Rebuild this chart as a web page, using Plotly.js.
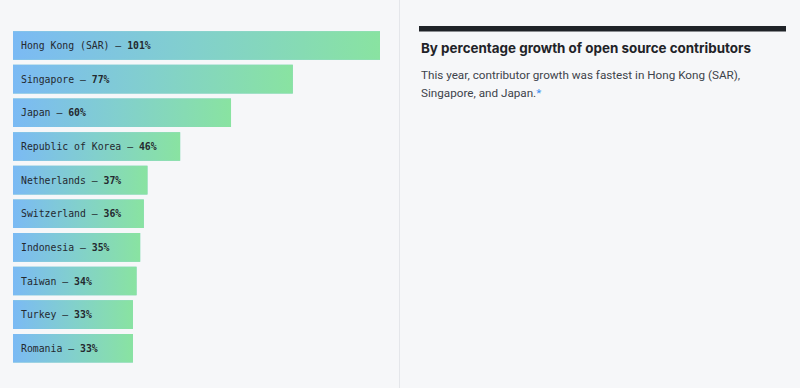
<!DOCTYPE html>
<html>
<head>
<meta charset="utf-8">
<script src="https://cdn.plot.ly/plotly-3.0.1.min.js"></script>
<style>
  html, body { margin: 0; padding: 0; background: #f6f7f9; }
  #chart { width: 800px; height: 388px; }
</style>
</head>
<body>
<div id="chart"></div>
<script>
// ---- data ----
const countries = ["Hong Kong (SAR)", "Singapore", "Japan", "Republic of Korea", "Netherlands",
                   "Switzerland", "Indonesia", "Taiwan", "Turkey", "Romania"];
const growth = [101, 77, 60, 46, 37, 36, 35, 34, 33, 33];
const chartTitle = "By percentage growth of open source contributors";
const descLine1 = "This year, contributor growth was fastest in Hong Kong (SAR),";
const descLine2 = "Singapore, and Japan.";
const footnoteMark = "*";

// ---- build ----
const W = 800, H = 388;
const half = 0.425;
const idx = countries.map((_, i) => i);
const traces = [];

// base bar trace (covered by gradient fills)
traces.push({
  type: "bar", orientation: "h",
  x: growth, y: idx, width: 2 * half,
  marker: { color: "#82cfc9", line: { width: 0 } },
  hoverinfo: "skip", showlegend: false
});

// gradient fills per bar
growth.forEach((v, i) => {
  traces.push({
    type: "scatter", mode: "none",
    x: [0, v, v, 0, 0],
    y: [i - half, i - half, i + half, i + half, i - half],
    fill: "toself",
    fillgradient: {
      type: "horizontal",
      colorscale: [[0, "#7bbaf4"], [0.5, "#82d0cc"], [1, "#89e3a1"]]
    },
    hoverinfo: "skip", showlegend: false
  });
});

const annotations = countries.map((c, i) => ({
  x: 0, y: i, xref: "x", yref: "y",
  xanchor: "left", yanchor: "middle", xshift: 6,
  text: c + " — <b>" + growth[i] + "%</b>",
  showarrow: false,
  font: { family: "DejaVu Sans Mono, monospace", size: 9.8, color: "#24292f" }
}));

annotations.push({
  x: 419 / W, y: 1 - 48 / H, xref: "paper", yref: "paper",
  xanchor: "left", yanchor: "middle",
  text: "<b>" + chartTitle + "</b>", showarrow: false,
  font: { family: "Inter, sans-serif", size: 13.4, color: "#1f2328" }
});
annotations.push({
  x: 419 / W, y: 1 - 74.5 / H, xref: "paper", yref: "paper",
  xanchor: "left", yanchor: "middle",
  text: descLine1, showarrow: false,
  font: { family: "Roboto, sans-serif", size: 11.7, color: "#3d434b" }
});
annotations.push({
  x: 419 / W, y: 1 - 93 / H, xref: "paper", yref: "paper",
  xanchor: "left", yanchor: "middle",
  text: descLine2 + "<span style='color:#3b8ff0'>" + footnoteMark + "</span>", showarrow: false,
  font: { family: "Roboto, sans-serif", size: 11.7, color: "#3d434b" }
});

const layout = {
  width: W, height: H,
  margin: { l: 0, r: 0, t: 0, b: 0 },
  paper_bgcolor: "#f6f7f9", plot_bgcolor: "rgba(0,0,0,0)",
  showlegend: false,
  barmode: "overlay",
  xaxis: {
    domain: [13 / W, 380 / W], range: [0, 101],
    showgrid: false, zeroline: false, showticklabels: false, showline: false, fixedrange: true
  },
  yaxis: {
    domain: [(H - 365.1) / H, (H - 28.7) / H], range: [9.5, -0.5],
    showgrid: false, zeroline: false, showticklabels: false, showline: false, fixedrange: true
  },
  shapes: [
    { type: "line", xref: "paper", yref: "paper", x0: 399.5 / W, x1: 399.5 / W, y0: 0, y1: 1,
      line: { color: "#e4e6ea", width: 1 } },
    { type: "rect", xref: "paper", yref: "paper", x0: 419 / W, x1: 786 / W,
      y0: 1 - 31.5 / H, y1: 1 - 26 / H, fillcolor: "#1f2328", line: { width: 0 } }
  ],
  annotations: annotations
};

Plotly.newPlot("chart", traces, layout, { displayModeBar: false, staticPlot: true });
</script>
</body>
</html>
